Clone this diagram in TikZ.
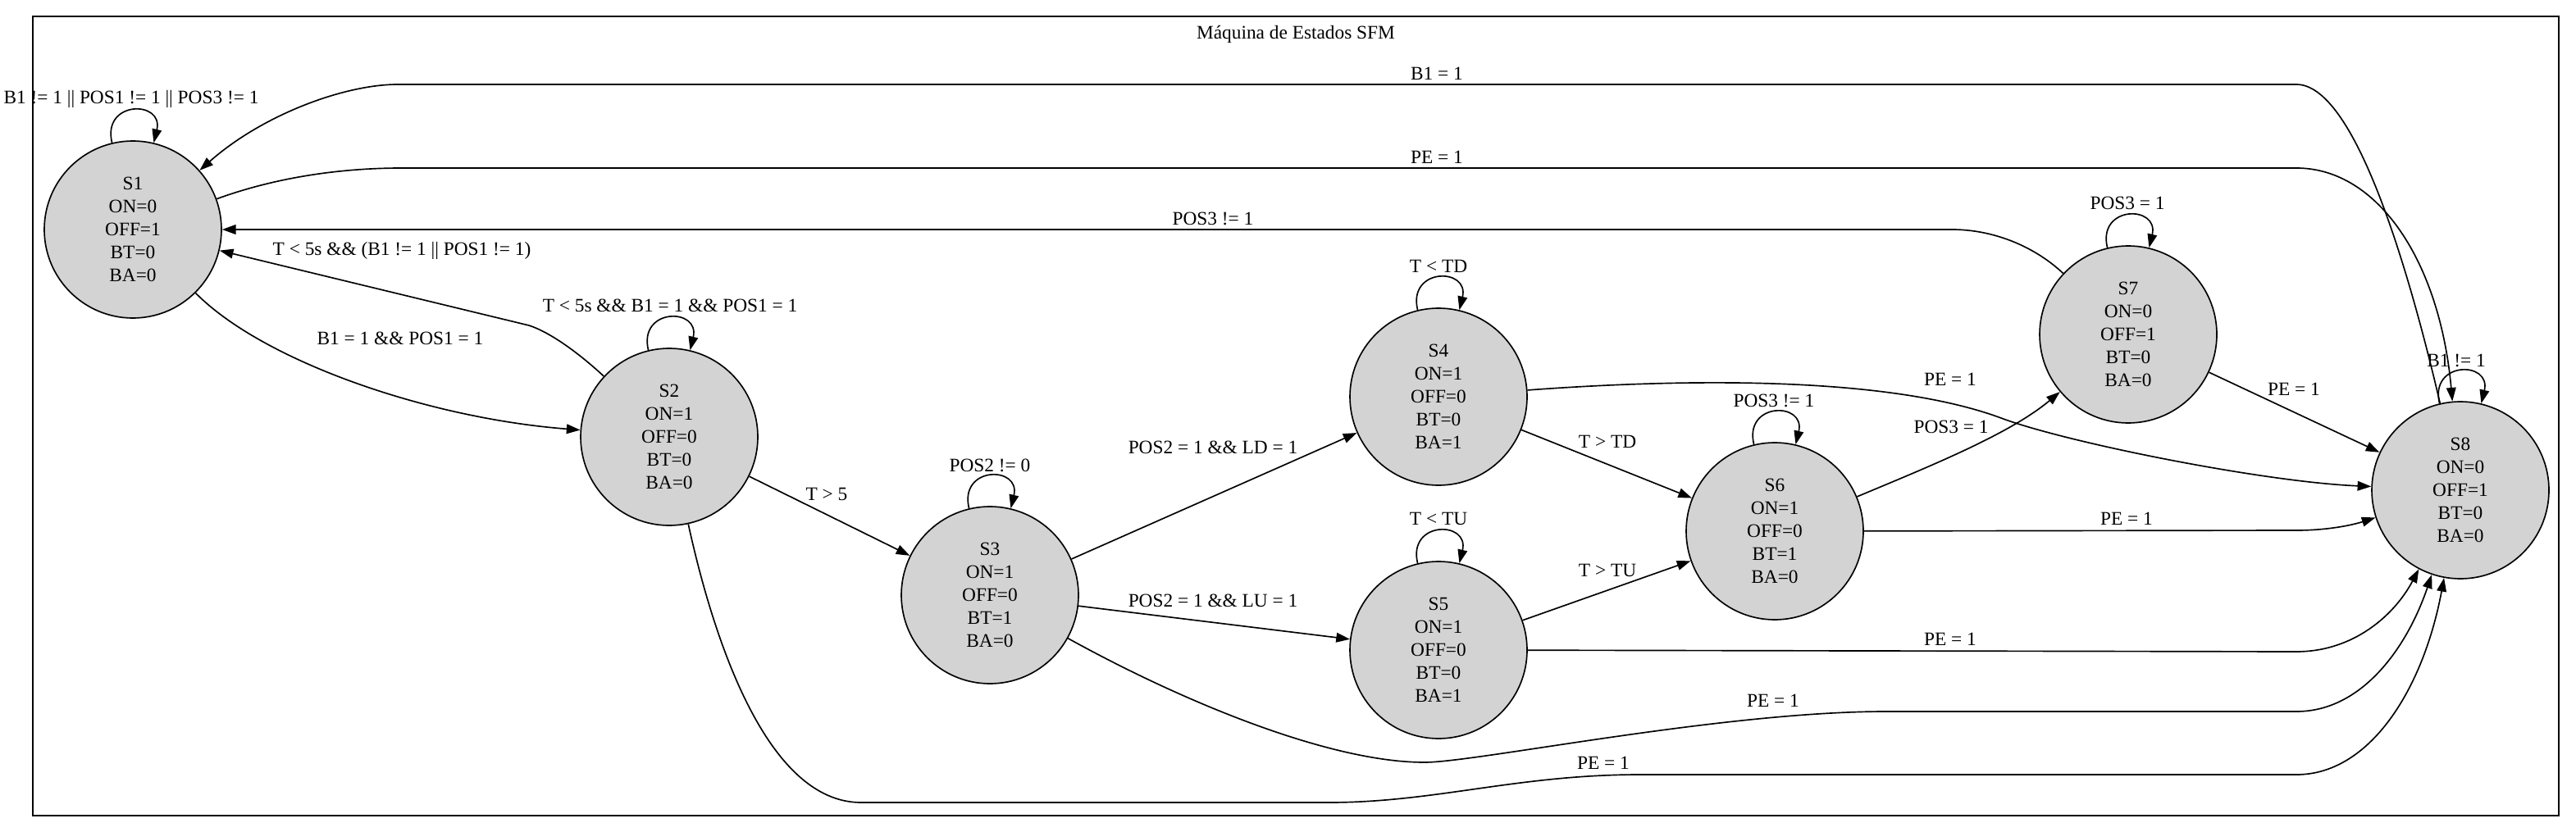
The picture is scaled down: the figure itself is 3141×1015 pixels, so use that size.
\documentclass[tikz,border=0pt]{standalone}
\usepackage{fontspec}
\setmainfont{Liberation Serif}
\usetikzlibrary{arrows.meta}
\definecolor{stategray}{RGB}{211,211,211}

\begin{document}
\begin{tikzpicture}[x=0.6pt,y=-0.6pt,>={Triangle[length=10pt,width=7pt]},line width=1pt,
	]

	\tikzset{state/.style={
				circle,draw=black,fill=stategray,inner sep=0pt,
				minimum size=129.6pt,align=center,
				font=\fontsize{14}{16.8}\selectfont}
	}
	\tikzset{lbl/.style={inner sep=0pt,font=\fontsize{14}{16.8}\selectfont}}

	\useasboundingbox (0,0) rectangle (3141,1015);
	\draw (40,20) rectangle (3120,995);
	\node[lbl] (title) at (1580,42) {Máquina de Estados SFM};

	% estados
	\node[state] (s1) at (162,280) {S1\\ON=0\\OFF=1\\BT=0\\BA=0};
	\node[state] (s2) at (816,533) {S2\\ON=1\\OFF=0\\BT=0\\BA=0};
	\node[state] (s3) at (1207,726) {S3\\ON=1\\OFF=0\\BT=1\\BA=0};
	\node[state] (s4) at (1754,484) {S4\\ON=1\\OFF=0\\BT=0\\BA=1};
	\node[state] (s5) at (1754,793) {S5\\ON=1\\OFF=0\\BT=0\\BA=1};
	\node[state] (s6) at (2164,648) {S6\\ON=1\\OFF=0\\BT=1\\BA=0};
	\node[state] (s7) at (2595,408) {S7\\ON=0\\OFF=1\\BT=0\\BA=0};
	\node[state] (s8) at (3000,598) {S8\\ON=0\\OFF=1\\BT=0\\BA=0};

	% S1
	\draw[->] (s1) .. controls +(-38,-158) and +(38,-158) .. (s1);
	\node[lbl] (l11) at (160,121) {B1 != 1 || POS1 != 1 || POS3 != 1};

	\draw[->] (s1) .. controls (320,440) and (520,510) .. (s2);
	\node[lbl] (l12) at (488,413) {B1 = 1 \&\& POS1 = 1};

	\draw[->] (s1) .. controls (340,215) and (420,205) .. (490,205) -- (2800,205)
		.. controls (2900,205) and (2975,320) .. (s8);
	\node[lbl] (l18) at (1752,192) {PE = 1};

	% S2
	\draw[->] (s2) .. controls (705,430) and (670,405) .. (645,397) -- (s1);
	\node[lbl] (l21) at (490,306) {T < 5s \&\& (B1 != 1 || POS1 != 1)};

	\draw[->] (s2) .. controls +(-38,-158) and +(38,-158) .. (s2);
	\node[lbl] (l22) at (817,373) {T < 5s \&\& B1 = 1 \&\& POS1 = 1};

	\draw[->] (s2) -- (s3);
	\node[lbl] (l23) at (1008,603) {T > 5};

	\draw[->] (s2) .. controls (870,780) and (935,979) .. (1050,979) -- (1620,979)
		.. controls (1750,979) and (1850,945) .. (2000,945) -- (2800,945)
		.. controls (2890,945) and (2955,840) .. (s8);
	\node[lbl] (l28) at (1955,931) {PE = 1};

	% S3
	\draw[->] (s3) .. controls +(-38,-158) and +(38,-158) .. (s3);
	\node[lbl] (l33) at (1207,568) {POS2 != 0};

	\draw[->] (s3) -- (s4);
	\node[lbl] (l34) at (1479,546) {POS2 = 1 \&\& LD = 1};

	\draw[->] (s3) -- (s5);
	\node[lbl] (l35) at (1479,733) {POS2 = 1 \&\& LU = 1};

	\draw[->] (s3) .. controls (1440,855) and (1620,930) .. (1737,930)
		.. controls (1800,930) and (2100,868) .. (2300,868) -- (2800,868)
		.. controls (2880,868) and (2935,790) .. (s8);
	\node[lbl] (l38) at (2162,855) {PE = 1};

	% S4
	\draw[->] (s4) .. controls +(-38,-158) and +(38,-158) .. (s4);
	\node[lbl] (l44) at (1754,325) {T < TD};

	\draw[->] (s4) -- (s6);
	\node[lbl] (l46) at (1960,539) {T > TD};

	\draw[->] (s4) .. controls (2050,462) and (2300,458) .. (2440,510)
		.. controls (2520,540) and (2760,588) .. (s8);
	\node[lbl] (l48) at (2378,463) {PE = 1};

	% S5
	\draw[->] (s5) .. controls +(-38,-158) and +(38,-158) .. (s5);
	\node[lbl] (l55) at (1754,633) {T < TU};

	\draw[->] (s5) -- (s6);
	\node[lbl] (l56) at (1960,696) {T > TU};

	\draw[->] (s5) -- (2800,795) .. controls (2870,795) and (2920,750) .. (s8);
	\node[lbl] (l58) at (2378,780) {PE = 1};

	% S6
	\draw[->] (s6) .. controls +(-38,-158) and +(38,-158) .. (s6);
	\node[lbl] (l66) at (2163,489) {POS3 != 1};

	\draw[->] (s6) .. controls (2350,570) and (2450,530) .. (s7);
	\node[lbl] (l67) at (2379,521) {POS3 = 1};

	\draw[->] (s6) -- (2800,647) .. controls (2840,647) and (2870,640) .. (s8);
	\node[lbl] (l68) at (2593,633) {PE = 1};

	% S7
	\draw[->] (s7) .. controls +(-38,-158) and +(38,-158) .. (s7);
	\node[lbl] (l77) at (2594,248) {POS3 = 1};

	\draw[->] (s7) .. controls (2480,300) and (2430,280) .. (2380,280) -- (s1);
	\node[lbl] (l71) at (1479,267) {POS3 != 1};

	\draw[->] (s7) -- (s8);
	\node[lbl] (l78) at (2797,475) {PE = 1};

	% S8
	\draw[->] (s8) .. controls +(-38,-158) and +(38,-158) .. (s8);
	\node[lbl] (l88) at (2995,440) {B1 != 1};

	\draw[->] (s8) .. controls (2935,320) and (2870,103) .. (2800,103) -- (485,103)
		.. controls (420,103) and (320,140) .. (s1);
	\node[lbl] (l81) at (1752,90) {B1 = 1};

\end{tikzpicture}
\end{document}
